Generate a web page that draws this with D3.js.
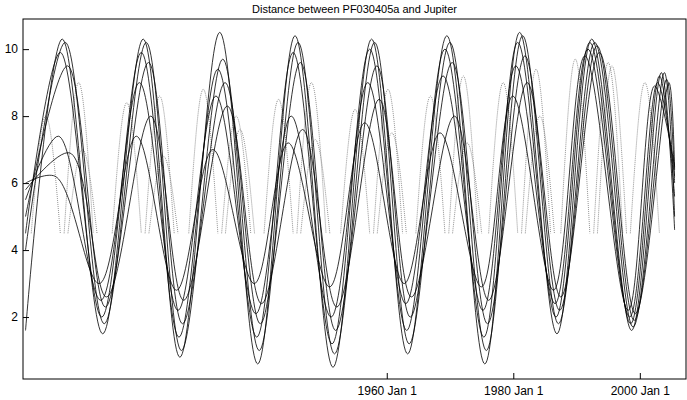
<!DOCTYPE html><html><head><meta charset="utf-8">
<script src="https://cdn.jsdelivr.net/npm/d3@7"></script>
<style>body{margin:0;background:#fff}text{font-family:"Liberation Sans",Arial,sans-serif}</style></head><body>
<svg id="c" width="687" height="400"></svg>
<script>
const title = "Distance between PF030405a and Jupiter";
const xTicks = [1960, 1980, 2000];
const yTicks = [2, 4, 6, 8, 10];
const peakYears = [1908.7,1921.5,1933.6,1945.5,1957.6,1969.5,1981.0,1992.4,2003.4];
const troughYears = [1915.1,1927.3,1939.6,1951.5,1963.3,1975.5,1986.9,1998.7];
const startYear = 1902.9, endYear = 2005.5;
const seriesShift = [0, 0.8, -0.5, 1.4, -1.0, 2.0, -1.8];
const seriesStart = [1.6, 4.0, 4.5, 5.0, 5.5, 5.8, 6.0];
const seriesEnd = [4.6, 5.0, 5.6, 6.0, 6.2, 6.4, 6.5];
const seriesPeaks = [
 [10.3,10.3,10.5,10.4,10.3,10.4,10.5,10.3,9.3],
 [10.2,10.2,9.7,10.2,10.2,10.2,10.4,10.2,9.3],
 [9.9,9.9,9.4,9.9,10.0,10.0,10.2,10.2,9.2],
 [9.5,9.6,9.0,9.6,9.5,9.6,9.8,10.1,9.1],
 [7.4,9.0,8.6,8.0,9.0,9.2,9.5,10.0,9.0],
 [6.9,8.0,8.3,7.6,8.5,8.0,9.0,9.9,9.0],
 [6.2,7.4,7.0,7.2,7.8,7.5,8.6,9.8,8.9]];
const seriesTroughs = [
 [1.5,0.8,0.6,0.5,0.9,0.6,1.5,1.6],
 [1.8,1.0,1.0,0.9,1.2,1.0,1.8,1.7],
 [2.0,1.4,1.4,1.2,1.6,1.4,2.0,1.8],
 [2.3,1.8,1.8,1.6,2.0,1.8,2.2,1.9],
 [2.5,2.2,2.1,2.0,2.4,2.2,2.4,2.0],
 [2.6,2.5,2.4,2.3,2.6,2.5,2.6,2.1],
 [3.0,2.8,3.0,2.9,3.0,2.9,2.8,2.2]];
const dottedShift = [2.6, -2.6, 3.2];
const dottedPeaks = [
 [9.0,8.6,8.0,9.0,8.8,9.2,9.4,9.6,9.0],
 [8.0,8.4,8.8,8.5,8.2,8.6,9.0,9.7,9.0],
 [7.0,6.8,7.6,7.3,7.5,7.2,8.0,9.5,8.8]];
const dottedFloor = 4.5;

const svg = d3.select("#c");
const L=23,R=686,T=19,B=379;
const x = d3.scaleLinear().domain([1902.5,2007.3]).range([L,R]);
const y = d3.scaleLinear().domain([0.15,10.9]).range([B,T]);
const g = svg.append("g");
svg.append("clipPath").attr("id","cp").append("rect").attr("x",L).attr("y",T).attr("width",R-L).attr("height",B-T);
const line = d3.line().x(d=>x(d[0])).y(d=>y(d[1])).curve(d3.curveMonotoneX);

dottedPeaks.forEach((pk,k)=>{
  pk.forEach((v,i)=>{
    const c = peakYears[i]+dottedShift[k];
    const pts=[[c-2.3,dottedFloor],[c,v],[c+2.3,dottedFloor]].filter(p=>p[0]>=startYear&&p[0]<=endYear);
    if(pts.length<2) return;
    g.append("path").attr("d",line(pts)).attr("fill","none")
     .attr("stroke","#777").attr("stroke-width",0.8).attr("stroke-dasharray","1,1").attr("clip-path","url(#cp)");
  });
});

seriesPeaks.forEach((pk,k)=>{
  const pts=[[startYear,seriesStart[k]]];
  pk.forEach((v,i)=>{
    pts.push([peakYears[i]+seriesShift[k]*0.6,v]);
    if(i<seriesTroughs[k].length) pts.push([troughYears[i]+seriesShift[k]*0.3,seriesTroughs[k][i]]);
  });
  pts.push([endYear,seriesEnd[k]]);
  g.append("path").attr("d",d3.line().x(d=>x(d[0])).y(d=>y(d[1])).curve(d3.curveCatmullRom)(pts)).attr("fill","none")
   .attr("stroke","#000").attr("stroke-width",0.8).attr("clip-path","url(#cp)");
});

svg.append("rect").attr("x",L).attr("y",T).attr("width",R-L).attr("height",B-T).attr("fill","none").attr("stroke","#000").attr("stroke-width",1);
const ya = d3.axisLeft(y).tickValues(yTicks).tickSize(-6).tickFormat(d3.format("d"));
svg.append("g").attr("transform",`translate(${L},0)`).call(ya).call(s=>{s.select(".domain").remove();s.selectAll("text").attr("x",-5).attr("font-size",12).attr("font-family","Liberation Sans")});
const xa = d3.axisBottom(x).tickValues(xTicks).tickSize(-6).tickFormat(d=>d+" Jan 1");
svg.append("g").attr("transform",`translate(0,${B})`).call(xa).call(s=>{s.select(".domain").remove();s.selectAll("text").attr("y",7).attr("font-size",12).attr("font-family","Liberation Sans")});
svg.append("text").attr("x",(L+R)/2).attr("y",13).attr("text-anchor","middle").attr("font-size",11).text(title);
</script></body></html>
